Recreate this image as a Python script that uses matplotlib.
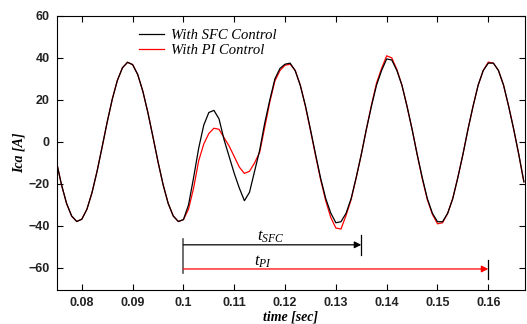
import numpy as np
import matplotlib.pyplot as plt

plt.rcParams["mathtext.fontset"] = "custom"
plt.rcParams["mathtext.it"] = "Liberation Serif:italic"
plt.rcParams["mathtext.rm"] = "Liberation Serif"

# time base, 1 ms steps (sec)
time = np.round(np.arange(0.075, 0.1675, 0.001), 3)

# phase current Ica [A]
ica_sfc = [
    -9.4, -20.4, -29.3, -35.3, -37.9, -36.8, -32.1, -24.2, -14.0, -2.4,    # 0.075-0.084
    9.5, 20.4, 29.3, 35.3, 37.9, 36.8, 32.1, 24.2, 14.0, 2.4,              # 0.085-0.094
    -9.5, -20.4, -29.3, -35.3, -37.9, -37.0,                               # 0.095-0.100
    -30.0, -17.0, -3.0, 8.0, 14.0, 15.0, 11.0, 1.0, -7.0, -15.0,           # 0.101-0.110
    -22.0, -28.0, -24.0, -14.0, -4.0, 9.0, 20.0, 30.0, 35.0, 37.0,         # 0.111-0.120
    37.5, 33.9, 26.9, 17.3, 5.9, -5.9, -17.3, -26.9, -33.9, -38.5,         # 0.121-0.130
    -38.0, -34.0, -27.0, -17.0, -6.0, 6.0, 17.0, 27.0, 34.0, 39.5,         # 0.131-0.140
    39.0, 34.0, 27.0, 17.0, 6.0, -6.0, -17.0, -27.0, -34.0, -38.0,         # 0.141-0.150
    -38.0, -34.0, -27.0, -17.0, -6.0, 6.0, 17.0, 27.0, 34.0, 37.5,         # 0.151-0.160
    37.5, 34.0, 27.0, 17.0, 6.0, -6.0, -19.0,                              # 0.161-0.167
]
ica_pi = [
    -9.4, -20.4, -29.3, -35.3, -37.9, -36.8, -32.1, -24.2, -14.0, -2.4,
    9.5, 20.4, 29.3, 35.3, 37.9, 36.8, 32.1, 24.2, 14.0, 2.4,
    -9.5, -20.4, -29.3, -35.3, -37.9, -37.0,
    -32.0, -22.0, -9.0, -1.0, 4.0, 6.5, 6.0, 2.0, -2.0, -7.0,
    -12.0, -15.0, -14.0, -10.0, -5.0, 7.0, 19.0, 29.0, 34.0, 36.5,
    37.0, 34.0, 27.0, 17.0, 5.5, -6.5, -18.0, -28.0, -36.0, -41.0,
    -41.5, -35.0, -27.5, -17.0, -6.0, 6.0, 17.5, 28.0, 35.0, 41.0,
    40.0, 34.5, 27.0, 17.0, 6.0, -6.0, -17.5, -27.5, -34.5, -39.0,
    -38.5, -34.0, -27.0, -17.0, -6.0, 6.0, 17.0, 27.0, 34.0, 38.0,
    37.5, 34.0, 27.0, 17.0, 6.0, -6.0, -19.0,
]

# settling-time annotations
t_start = 0.1
t_sfc_end = 0.135
t_pi_end = 0.16
y_sfc = -49
y_pi = -60.5

xticks = [0.08, 0.09, 0.1, 0.11, 0.12, 0.13, 0.14, 0.15, 0.16]
xticklabels = ["0.08", "0.09", "0.1", "0.11", "0.12", "0.13", "0.14", "0.15", "0.16"]
yticks = [-60, -40, -20, 0, 20, 40, 60]

serif = "Liberation Serif"
sans = "Liberation Sans"

fig = plt.figure(figsize=(5.27, 3.24), dpi=100)
ax = fig.add_axes([0.108, 0.105, 0.888, 0.846])

ax.plot(time, ica_pi, color="red", lw=0.9, zorder=2, label="With PI Control")
ax.plot(time, ica_sfc, color="black", lw=0.9, zorder=3, label="With SFC Control")

# t_SFC arrow
ax.plot([t_start, t_start], [-46, -62.5], color="#555555", lw=1.2)
ax.annotate("", xy=(t_sfc_end, y_sfc), xytext=(t_start, y_sfc),
            arrowprops=dict(arrowstyle="-|>", color="black", lw=0.9,
                            mutation_scale=10, shrinkA=0, shrinkB=0))
ax.plot([t_sfc_end, t_sfc_end], [-44.3, -53.8], color="black", lw=0.9)
ax.text(0.1172, -45.0, r"$t_{SFC}$", fontsize=12, ha="center", va="center")

# t_PI arrow
ax.annotate("", xy=(t_pi_end, y_pi), xytext=(t_start, y_pi),
            arrowprops=dict(arrowstyle="-|>", color="red", lw=0.9,
                            mutation_scale=10, shrinkA=0, shrinkB=0))
ax.plot([t_pi_end, t_pi_end], [-56, -65.5], color="black", lw=0.9)
ax.text(0.1157, -56.5, r"$t_{PI}$", fontsize=12, ha="center", va="center")

ax.set_xlim(0.0751, 0.1672)
ax.set_ylim(-70.5, 60)
ax.set_xticks(xticks)
ax.set_xticklabels(xticklabels)
ax.set_yticks(yticks)
ax.tick_params(direction="in", top=True, right=True, length=4, width=0.8,
               labelsize=9, pad=5)
for lab in ax.get_xticklabels() + ax.get_yticklabels():
    lab.set_family(sans)
    lab.set_fontweight("bold")
    lab.set_color("#222222")

ax.set_xlabel("time [sec]", family=serif, style="italic", fontweight="bold",
              fontsize=10, labelpad=1)
ax.set_ylabel("Ica [A]", family=serif, style="italic", fontweight="bold",
              fontsize=10, labelpad=2)

handles, labels = ax.get_legend_handles_labels()
leg = ax.legend(handles[::-1], labels[::-1], loc="upper left",
                bbox_to_anchor=(0.157, 0.985), frameon=False,
                prop={"family": serif, "style": "italic", "size": 10.5},
                handlelength=1.7, handletextpad=0.5, labelspacing=0.1,
                borderaxespad=0.2)

fig.savefig("out.png", dpi=100)
